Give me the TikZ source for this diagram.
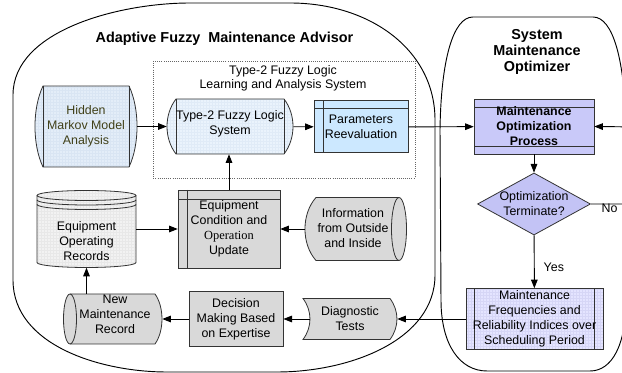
\documentclass[tikz,border=0pt]{standalone}
\usepackage{fontspec}
\setmainfont{Liberation Sans}
\newfontfamily\timesfont{Liberation Serif}
\usetikzlibrary{arrows.meta,shapes.geometric,calc}
\def\px{0.75pt}
\definecolor{linec}{HTML}{333333}
\definecolor{hmmfill}{HTML}{E3EDF8}
\definecolor{hmmgrid}{HTML}{D9E5F3}
\definecolor{tfill}{HTML}{EAF3FC}
\definecolor{tgrid}{HTML}{E0EBF7}
\definecolor{parfill}{HTML}{CCE8FF}
\definecolor{grayfill}{HTML}{D9D9D9}
\definecolor{eorfill}{HTML}{F2F2F2}
\definecolor{eorgrid}{HTML}{E8E8E8}
\definecolor{mopfill}{HTML}{C9C9F9}
\definecolor{diafill}{HTML}{C3C3F5}
\definecolor{mffill}{HTML}{E4E4FF}
\definecolor{mfgrid}{HTML}{D6D6F6}
\definecolor{olivetext}{HTML}{404018}
\begin{document}
\begin{tikzpicture}[x=0.75pt,y=-0.75pt,
  outl/.style={draw=linec, line width=0.6pt},
  grp/.style={draw=black, line width=0.7pt},
  arr/.style={draw=black, line width=0.7pt, -{Triangle[length=6.5pt,width=5pt]}},
  txt/.style={font=\fontsize{9.3}{11.3}\selectfont, align=center, inner sep=0pt},
  boldtxt/.style={font=\bfseries\fontsize{9.3}{11.3}\selectfont, align=center, inner sep=0pt},
  titletxt/.style={font=\bfseries\fontsize{10.8}{11.8}\selectfont, align=center, inner sep=0pt},
  slot/.style={inner sep=0pt, draw=none},
  gridfill/.style 2 args={fill=#1, path picture={\draw[#2, line width=0.2pt] (path picture bounding box.south west) grid[step=2.25pt] (path picture bounding box.north east);}}
]
\useasboundingbox (0,0) rectangle (622,373);
\clip (0,0) rectangle (622,373);

% ---------- group outlines ----------
\draw[grp] (13,95) .. controls (13,30) and (120,3) .. (190,3) -- (290,3)
  .. controls (370,3) and (435,50) .. (435,120) -- (435,275)
  .. controls (435,340) and (350,372) .. (277,372) -- (167,372)
  .. controls (100,372) and (13,345) .. (13,280) -- cycle;
\draw[grp] (473,17) -- (593,17) .. controls (613,17) and (625,60) .. (626,130)
  -- (626,300) .. controls (626,345) and (612,371) .. (590,371) -- (487,371)
  .. controls (460,371) and (441,345) .. (441,300) -- (440,130)
  .. controls (441,60) and (453,17) .. (473,17) -- cycle;

\node[titletxt] (afma) at (224.5,39) {Adaptive Fuzzy~ Maintenance Advisor};
\node[titletxt] (smo) at (537,52) {System\\Maintenance\\Optimizer};

% ---------- dashed learning box ----------
\draw[draw=black!60, line width=0.6pt, densely dotted] (153,61) rectangle (415,178);
\node[font=\fontsize{9.3}{10.3}\selectfont, align=center, inner sep=0pt] (lrn) at (283,78) {Type-2 Fuzzy Logic\\Learning and Analysis System};

% ---------- Hidden Markov Model Analysis ----------
\coordinate (c-hmm) at (86,126.5);
\begin{scope}[shift={(c-hmm)}]
  \path[outl, gridfill={hmmfill}{hmmgrid}] (-43,-40.5) -- (43,-40.5) .. controls (53.7,-18) and (53.7,18) .. (43,40.5)
    -- (-43,40.5) .. controls (-53.7,18) and (-53.7,-18) .. (-43,-40.5) -- cycle;
  \draw[outl] (-43,-40.5) -- (-43,40.5) (43,-40.5) -- (43,40.5);
\end{scope}
\node[slot, txt, text=olivetext, minimum width=102*\px, minimum height=81*\px] (hmm) at (c-hmm) {Hidden\\Markov Model\\Analysis};

% ---------- Type-2 Fuzzy Logic System ----------
\coordinate (c-t2) at (230,126.5);
\begin{scope}[shift={(c-t2)}]
  \path[outl, gridfill={tfill}{tgrid}] (-54,-27.5) -- (54,-27.5) .. controls (66,-12) and (66,12) .. (54,27.5)
    -- (-54,27.5) .. controls (-66,12) and (-66,-12) .. (-54,-27.5) -- cycle;
  \draw[outl] (-54,-27.5) -- (-54,27.5) (54,-27.5) -- (54,27.5);
\end{scope}
\node[slot, minimum width=126*\px, minimum height=55*\px] (t2) at (c-t2) {};
\node[txt] (t2-t) at ($(c-t2)+(0,-3)$) {Type-2 Fuzzy Logic\\System};

% ---------- Parameters Reevaluation ----------
\coordinate (c-par) at (361,126.5);
\begin{scope}[shift={(c-par)}]
  \path[outl, fill=parfill] (-47,-26) rectangle (47,26);
  \draw[outl] (-38,-26) -- (-38,26) (-47,-18) -- (47,-18);
\end{scope}
\node[slot, txt, minimum width=94*\px, minimum height=52*\px] (par) at ($(c-par)+(0,0.5)$) {Parameters\\Reevaluation};

% ---------- Equipment Condition and Operation Update ----------
\coordinate (c-ecu) at (229,229);
\begin{scope}[shift={(c-ecu)}]
  \path[outl, fill=grayfill] (-51,-39) rectangle (51,39);
  \draw[outl] (-42,-39) -- (-42,39) (-51,-30) -- (51,-30);
\end{scope}
\node[slot, txt, minimum width=102*\px, minimum height=78*\px] (ecu) at (c-ecu) {Equipment\\Condition and\\{\timesfont Operation}\\Update};

% ---------- Equipment Operating Records ----------
\coordinate (c-eor) at (86.5,229);
\begin{scope}[shift={(c-eor)}]
  \path[outl, gridfill={eorfill}{eorgrid}] (-49.5,-33.5) -- (-49.5,33.5)
    .. controls (-49.5,36.3) and (-27.3,38.5) .. (0,38.5) .. controls (27.3,38.5) and (49.5,36.3) .. (49.5,33.5)
    -- (49.5,-33.5) .. controls (49.5,-36.3) and (27.3,-38.5) .. (0,-38.5)
    .. controls (-27.3,-38.5) and (-49.5,-36.3) .. (-49.5,-33.5) -- cycle;
  \foreach \yy in {-33.5,-29,-24.5}
    \draw[outl] (-49.5,\yy) .. controls (-49.5,\yy+2.76) and (-27.3,\yy+5) .. (0,\yy+5)
      .. controls (27.3,\yy+5) and (49.5,\yy+2.76) .. (49.5,\yy);
\end{scope}
\node[slot, minimum width=99*\px, minimum height=77*\px] (eor) at (c-eor) {};
\node[txt] (eor-t) at ($(c-eor)+(0,12.5)$) {Equipment\\Operating\\Records};

% ---------- Information from Outside and Inside ----------
\coordinate (c-info) at (356,229);
\begin{scope}[shift={(c-info)}]
  \path[outl, fill=grayfill] (-40,-31.5) -- (43,-31.5) .. controls (47.1,-31.5) and (50.5,-17.4) .. (50.5,0)
    .. controls (50.5,17.4) and (47.1,31.5) .. (43,31.5) -- (-40,31.5)
    .. controls (-54.7,15) and (-54.7,-15) .. (-40,-31.5) -- cycle;
  \draw[outl] (43,-31.5) .. controls (38.9,-31.5) and (35.5,-17.4) .. (35.5,0)
    .. controls (35.5,17.4) and (38.9,31.5) .. (43,31.5);
\end{scope}
\node[slot, minimum width=102*\px, minimum height=63*\px] (info) at (c-info) {};
\node[txt] (info-t) at ($(c-info)+(-3,-1)$) {Information\\from Outside\\and Inside};

% ---------- New Maintenance Record ----------
\coordinate (c-nmr) at (113,319);
\begin{scope}[shift={(c-nmr)}]
  \path[outl, fill=grayfill] (-43,-25) -- (42,-25) .. controls (51.3,-12) and (51.3,12) .. (42,25)
    -- (-43,25) .. controls (-46.6,25) and (-49.5,13.8) .. (-49.5,0)
    .. controls (-49.5,-13.8) and (-46.6,-25) .. (-43,-25) -- cycle;
  \draw[outl] (-43,-25) .. controls (-39.4,-25) and (-36.5,-13.8) .. (-36.5,0)
    .. controls (-36.5,13.8) and (-39.4,25) .. (-43,25);
\end{scope}
\node[slot, minimum width=98*\px, minimum height=50*\px] (nmr) at (c-nmr) {};
\node[txt] (nmr-t) at ($(c-nmr)+(2,-5)$) {New\\Maintenance\\Record};

% ---------- Decision Making Based on Expertise ----------
\node[slot, txt, outl, fill=grayfill, minimum width=94*\px, minimum height=55*\px] (dec) at (236,319) {Decision\\Making Based\\on Expertise};

% ---------- Diagnostic Tests ----------
\coordinate (c-diag) at (350,319);
\begin{scope}[shift={(c-diag)}]
  \path[outl, fill=grayfill] (-47,-20.5) -- (40,-20.5) .. controls (49.3,-8) and (49.3,8) .. (40,20.5)
    -- (-47,20.5) .. controls (-37.7,8) and (-37.7,-8) .. (-47,-20.5) -- cycle;
\end{scope}
\node[slot, txt, minimum width=94*\px, minimum height=41*\px] (diag) at (c-diag) {Diagnostic\\Tests};

% ---------- Maintenance Optimization Process ----------
\coordinate (c-mop) at (534,126.5);
\begin{scope}[shift={(c-mop)}]
  \path[outl, fill=mopfill] (-60,-27.5) rectangle (60,27.5);
  \draw[outl] (-60,-19.5) -- (60,-19.5) (-60,19.5) -- (60,19.5);
\end{scope}
\node[slot, boldtxt, minimum width=120*\px, minimum height=55*\px] (mop) at (c-mop) {Maintenance\\Optimization\\Process};

% ---------- Optimization Terminate? ----------
\node[diamond, outl, fill=diafill, txt, aspect=1.82, minimum width=113*\px, minimum height=62*\px, inner sep=0pt] (dia) at (534,204) {Optimization\\Terminate?};

% ---------- Maintenance Frequencies ... ----------
\coordinate (c-mf) at (534.5,319);
\begin{scope}[shift={(c-mf)}]
  \path[outl, gridfill={mffill}{mfgrid}] (-68.5,-30.5) rectangle (68.5,30.5);
  \draw[outl] (-60,-30.5) -- (-60,30.5) (60,-30.5) -- (60,30.5);
\end{scope}
\node[slot, txt, minimum width=137*\px, minimum height=61*\px] (mf) at (c-mf) {Maintenance\\Frequencies and\\Reliability Indices over\\Scheduling Period};

% ---------- connectors ----------
\draw[arr] (hmm) -- (t2);
\draw[arr] (t2) -- (par);
\draw[arr] (par) -- (mop);
\draw[arr] (ecu.north) -- (ecu.north |- t2.south);
\draw[arr] (eor) -- (ecu);
\draw[arr] (info) -- (ecu);
\draw[arr] (eor.south |- nmr.north) -- (eor.south);
\draw[arr] (dec) -- (nmr);
\draw[arr] ($(diag.west)+(7,0)$) -- (dec.east);
\draw[arr] (mf) -- (diag);
\draw[arr] (mop) -- (dia);
\draw[arr] (dia) -- node[txt, pos=0.6, anchor=west, xshift=9*\px] (yes) {Yes} (mf);
\coordinate (loop) at (640,127);
\draw[arr] (dia.east) -- (dia.east -| loop) -- (loop) -- (mop.east);
\node[txt] (no) at (609.5,208) {No};
\end{tikzpicture}
\end{document}
